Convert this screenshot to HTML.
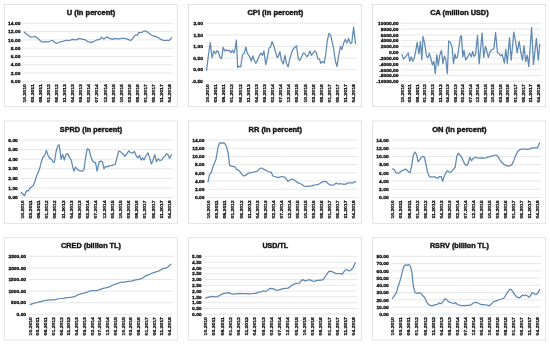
<!DOCTYPE html>
<html><head><meta charset="utf-8"><title>charts</title>
<style>html,body{margin:0;padding:0;background:#fff;}svg{display:block;}text{font-family:"Liberation Sans",sans-serif;font-weight:bold;fill:#111;stroke:#111;stroke-width:0.28;}.t{font-size:6.9px;text-anchor:middle;stroke-width:0.4;}.y{font-size:3.9px;text-anchor:end;}.x{font-size:3.9px;text-anchor:end;}.g{stroke:#dcdcdc;stroke-width:0.7;fill:none;}.a{stroke:#c9ced8;stroke-width:0.7;fill:none;stroke-dasharray:1.1 0.5;}.b{stroke:#dcdcdc;stroke-width:0.8;fill:#fff;}.l{stroke:#5f89b5;stroke-width:1.25;fill:none;stroke-linejoin:round;stroke-linecap:round;}</style></head><body>
<svg width="550" height="345" viewBox="0 0 550 345">
<rect x="0" y="0" width="550" height="345" fill="#fff"/>
<g>
<rect class="b" x="4.3" y="4.4" width="173.0" height="102.3"/>
<path class="g" d="M23.2 23.30H173.0"/>
<path class="g" d="M23.2 31.60H173.0"/>
<path class="g" d="M23.2 39.90H173.0"/>
<path class="g" d="M23.2 48.20H173.0"/>
<path class="g" d="M23.2 56.50H173.0"/>
<path class="g" d="M23.2 64.80H173.0"/>
<path class="g" d="M23.2 73.10H173.0"/>
<path class="a" d="M23.2 81.40H173.0"/>
<polyline class="l" points="24.1,32.1 27.3,34.7 30.9,37.2 35.3,36.5 38.2,38.8 41.8,42.0 44.7,41.7 48.4,42.0 52.0,40.3 56.4,43.5 60.0,42.0 62.9,41.3 65.8,40.3 69.5,40.5 72.4,39.4 76.0,39.8 79.6,38.4 82.5,39.4 84.7,39.4 87.6,41.6 91.3,42.4 94.2,41.3 97.1,39.8 100.0,39.4 101.6,37.2 103.8,39.1 106.7,36.9 109.6,38.4 112.5,39.4 115.5,38.4 118.4,39.1 121.3,38.4 124.9,38.4 127.8,39.4 130.7,40.5 132.9,38.4 135.1,35.2 137.3,35.2 138.7,32.5 141.6,32.5 144.5,30.8 147.5,32.1 149.6,33.7 152.5,35.7 154.7,36.2 157.6,37.3 160.5,39.1 163.5,40.5 166.4,40.3 169.3,40.3 171.7,37.6"/>
</g>
<g>
<rect class="b" x="188.6" y="4.4" width="173.0" height="102.3"/>
<path class="g" d="M206.3 23.30H357.3"/>
<path class="g" d="M206.3 34.92H357.3"/>
<path class="g" d="M206.3 46.54H357.3"/>
<path class="g" d="M206.3 58.16H357.3"/>
<path class="g" d="M206.3 69.78H357.3"/>
<path class="a" d="M206.3 81.40H357.3"/>
<polyline class="l" points="206.6,70.3 208.4,55.3 210.3,42.6 212.0,57.7 213.9,50.9 215.6,53.8 216.8,50.9 218.3,51.6 219.7,56.7 221.5,58.9 223.2,47.3 224.7,50.9 226.5,49.9 228.0,50.9 229.5,50.2 230.9,52.8 232.4,50.2 233.8,53.1 235.0,49.5 236.4,40.0 237.7,67.6 239.2,66.2 240.7,66.9 242.5,54.5 244.0,53.8 245.9,47.0 247.3,53.1 248.8,55.3 250.3,58.2 251.3,61.1 252.7,56.0 254.2,60.4 255.9,63.3 257.8,59.6 259.6,55.3 261.0,53.1 262.5,55.3 263.9,50.9 265.8,64.7 267.3,58.2 269.0,48.0 270.5,47.3 272.1,41.5 273.8,45.8 275.6,52.4 277.2,57.5 278.5,56.0 279.9,51.6 281.4,60.4 283.3,64.0 284.9,55.3 286.4,63.3 288.1,66.9 290.0,58.2 291.5,53.1 293.3,48.7 295.1,47.3 296.5,45.8 298.3,58.9 299.7,60.4 301.6,56.7 303.4,52.8 305.0,53.8 306.7,56.7 308.2,55.3 309.9,50.9 311.4,55.3 313.0,53.1 314.7,50.9 316.2,52.4 317.9,58.9 319.4,58.9 320.8,63.3 322.4,61.5 324.2,63.0 325.6,55.3 327.4,40.0 329.0,33.5 330.7,35.6 332.2,42.2 333.6,48.7 335.4,61.1 337.0,66.5 338.7,55.3 340.5,46.5 341.9,49.5 343.5,43.6 345.3,39.3 347.0,42.9 348.6,38.5 350.4,43.6 351.8,42.9 353.6,27.2 355.5,43.6"/>
</g>
<g>
<rect class="b" x="372.7" y="4.4" width="173.0" height="102.3"/>
<path class="g" d="M401.0 23.30H541.4"/>
<path class="g" d="M401.0 29.11H541.4"/>
<path class="g" d="M401.0 34.92H541.4"/>
<path class="g" d="M401.0 40.73H541.4"/>
<path class="g" d="M401.0 46.54H541.4"/>
<path class="g" d="M401.0 52.35H541.4"/>
<path class="g" d="M401.0 58.16H541.4"/>
<path class="g" d="M401.0 63.97H541.4"/>
<path class="g" d="M401.0 69.78H541.4"/>
<path class="g" d="M401.0 75.59H541.4"/>
<path class="a" d="M401.0 81.40H541.4"/>
<polyline class="l" points="401.9,54.4 403.6,59.1 405.4,56.9 407.0,55.0 408.3,53.0 409.7,61.3 411.2,56.9 412.7,61.3 414.1,58.4 415.6,51.8 417.2,42.4 418.9,54.0 420.4,41.6 421.8,59.8 423.0,36.5 424.7,43.8 426.5,56.2 427.9,57.6 429.4,53.3 431.0,59.1 432.4,64.9 433.9,61.3 435.3,73.6 436.8,54.7 438.3,65.6 439.7,55.5 441.5,50.4 442.9,63.5 444.4,56.2 445.8,59.1 447.3,73.6 448.7,40.9 450.5,42.4 452.1,47.5 453.5,63.5 455.0,54.0 456.0,58.4 457.5,56.9 458.9,47.5 460.4,36.5 461.4,35.8 462.8,56.9 464.0,50.4 465.7,59.8 467.6,56.9 469.8,53.3 471.3,56.9 472.7,51.5 474.1,56.5 475.6,54.4 477.5,35.5 479.2,63.8 482.1,33.0 483.7,57.3 485.5,46.4 486.9,51.5 488.4,57.3 490.1,51.5 491.7,50.0 493.9,48.5 495.6,32.5 497.4,52.2 499.0,53.6 500.7,55.8 502.2,54.4 504.4,63.1 505.8,49.3 507.3,63.1 509.5,37.6 511.2,60.2 513.8,32.1 515.7,42.0 517.2,52.9 519.2,41.3 520.7,51.5 522.5,60.2 524.0,45.6 525.7,61.6 527.2,55.1 528.8,66.7 531.6,27.5 533.5,64.5 536.4,38.4 538.3,60.2 539.7,44.2"/>
</g>
<g>
<rect class="b" x="4.3" y="121.0" width="173.0" height="102.3"/>
<path class="g" d="M20.9 140.10H173.0"/>
<path class="g" d="M20.9 149.67H173.0"/>
<path class="g" d="M20.9 159.23H173.0"/>
<path class="g" d="M20.9 168.80H173.0"/>
<path class="g" d="M20.9 178.37H173.0"/>
<path class="g" d="M20.9 187.93H173.0"/>
<path class="a" d="M20.9 197.50H173.0"/>
<polyline class="l" points="21.3,192.5 24.5,195.7 26.6,190.6 28.2,190.9 29.6,188.8 31.2,187.2 33.3,185.6 34.9,181.6 36.5,176.0 38.4,172.0 40.0,167.2 41.6,160.8 43.2,156.8 44.5,156.0 46.4,150.4 48.0,155.2 49.6,158.4 51.5,159.2 53.1,162.1 54.4,162.1 56.0,152.0 57.6,146.4 59.2,144.8 61.1,159.2 62.7,154.4 64.3,160.0 65.9,154.4 67.5,153.6 69.6,157.6 71.2,160.0 72.8,167.2 73.9,171.2 75.5,167.2 77.6,169.6 79.2,170.4 81.1,171.2 82.4,171.2 84.0,169.6 85.6,157.6 87.2,148.8 89.1,149.6 90.7,156.0 92.5,160.8 94.1,162.4 95.5,162.4 97.1,171.2 99.2,161.6 100.8,161.1 102.4,161.6 104.0,168.8 105.6,166.4 107.5,166.9 109.1,165.9 111.2,165.6 113.3,164.8 115.2,164.5 116.8,158.4 118.7,151.2 120.3,151.5 121.9,153.1 123.5,154.7 125.1,156.3 126.7,154.1 128.8,150.9 130.4,152.5 132.5,153.1 134.4,151.5 136.3,156.0 137.9,157.9 139.5,155.2 141.1,160.0 142.7,157.9 144.0,160.0 145.9,156.0 148.0,152.8 149.6,157.6 151.5,164.0 153.1,160.0 154.7,154.7 156.5,161.6 158.1,158.9 160.0,160.5 161.6,160.0 163.2,157.6 165.1,156.3 166.4,153.6 168.0,154.7 169.6,158.4 171.5,154.7"/>
</g>
<g>
<rect class="b" x="188.6" y="121.0" width="173.0" height="102.3"/>
<path class="g" d="M207.5 140.10H357.3"/>
<path class="g" d="M207.5 148.30H357.3"/>
<path class="g" d="M207.5 156.50H357.3"/>
<path class="g" d="M207.5 164.70H357.3"/>
<path class="g" d="M207.5 172.90H357.3"/>
<path class="g" d="M207.5 181.10H357.3"/>
<path class="g" d="M207.5 189.30H357.3"/>
<path class="a" d="M207.5 197.50H357.3"/>
<polyline class="l" points="208.0,181.9 209.6,174.4 211.2,172.8 212.8,167.2 214.4,163.2 216.0,159.2 217.9,148.0 219.5,142.9 221.3,143.2 222.9,142.9 224.5,143.2 226.1,145.6 228.0,152.0 229.6,165.3 231.5,166.1 233.1,166.4 234.9,166.9 236.5,169.1 238.1,170.1 240.0,171.7 241.9,174.4 244.0,176.0 245.9,175.2 248.0,173.3 249.9,172.8 252.0,172.3 253.9,172.0 256.0,171.7 257.9,170.4 260.0,168.5 261.6,168.0 263.5,169.1 265.6,170.1 267.5,171.2 269.3,172.0 271.2,172.0 272.8,176.0 274.7,176.5 276.8,177.1 278.7,177.6 280.5,176.8 282.4,176.5 284.3,177.1 285.9,178.4 288.0,181.3 289.9,180.0 292.0,179.2 293.9,179.7 296.0,181.3 297.9,182.9 300.0,183.5 301.9,184.5 304.0,186.1 305.9,186.4 308.0,186.4 309.9,186.1 312.0,185.6 313.9,185.1 316.0,184.8 318.4,184.3 320.3,183.2 322.4,181.9 324.3,181.3 326.4,181.6 328.0,183.5 329.9,184.8 332.0,185.1 333.9,184.8 336.0,183.2 337.9,184.0 340.0,183.7 341.9,184.0 344.0,184.0 345.6,184.3 347.2,183.2 349.1,182.9 351.2,182.9 353.1,182.9 355.2,181.6"/>
</g>
<g>
<rect class="b" x="372.7" y="121.0" width="173.0" height="102.3"/>
<path class="g" d="M391.6 140.10H541.4"/>
<path class="g" d="M391.6 148.30H541.4"/>
<path class="g" d="M391.6 156.50H541.4"/>
<path class="g" d="M391.6 164.70H541.4"/>
<path class="g" d="M391.6 172.90H541.4"/>
<path class="g" d="M391.6 181.10H541.4"/>
<path class="g" d="M391.6 189.30H541.4"/>
<path class="a" d="M391.6 197.50H541.4"/>
<polyline class="l" points="392.5,168.8 394.4,169.6 396.0,172.8 397.9,173.1 399.5,172.8 401.6,170.7 403.5,170.1 405.3,169.1 406.9,170.1 408.5,171.7 410.1,172.8 411.7,165.6 413.3,155.2 414.9,152.0 416.5,154.4 418.1,161.6 419.7,160.0 421.3,157.3 422.9,156.3 424.5,157.6 425.9,164.0 427.5,172.0 429.1,176.0 430.9,177.1 432.5,177.1 434.4,176.5 436.3,178.1 438.1,178.1 439.5,176.5 441.1,176.5 442.7,181.3 444.3,176.0 445.9,172.8 447.5,170.7 449.1,172.0 450.7,172.3 452.3,170.4 453.9,168.8 455.2,167.2 456.8,156.0 458.4,153.1 460.0,155.2 461.6,157.3 462.9,160.0 464.5,163.7 466.1,165.3 467.7,164.8 469.1,160.0 469.9,157.3 471.5,160.8 473.1,158.4 474.7,157.6 476.0,157.3 478.0,158.2 479.9,158.2 482.0,157.9 483.9,158.2 486.0,157.9 487.9,157.1 490.0,156.6 491.9,156.1 494.0,155.5 495.9,155.0 498.0,156.6 499.9,159.8 502.0,162.5 503.9,164.3 506.0,165.4 508.4,166.2 510.0,165.7 511.9,164.6 513.5,161.4 515.6,155.8 517.5,151.8 519.6,149.7 521.5,149.1 523.6,149.1 525.5,149.1 527.6,149.4 529.5,149.1 531.6,148.1 533.5,147.8 535.6,147.8 537.5,147.8 539.6,143.0"/>
</g>
<g>
<rect class="b" x="4.3" y="237.8" width="173.0" height="102.3"/>
<path class="g" d="M28.9 256.30H173.0"/>
<path class="g" d="M28.9 267.90H173.0"/>
<path class="g" d="M28.9 279.50H173.0"/>
<path class="g" d="M28.9 291.10H173.0"/>
<path class="g" d="M28.9 302.70H173.0"/>
<path class="a" d="M28.9 314.30H173.0"/>
<polyline class="l" points="30.1,304.6 32.0,303.8 35.2,303.0 38.4,302.2 41.6,301.4 44.8,300.6 48.0,300.1 51.2,299.8 54.4,299.8 57.6,299.0 60.8,298.5 64.0,298.2 67.2,297.7 70.4,297.4 72.8,296.9 75.2,296.3 77.6,295.0 80.0,294.2 82.4,293.4 84.8,292.9 87.2,292.1 89.6,291.2 92.0,290.5 94.4,290.5 96.8,290.5 99.2,289.9 101.6,288.9 104.0,288.1 105.6,287.9 108.8,287.1 112.0,285.5 115.2,284.1 118.4,283.1 121.6,282.0 124.0,282.3 126.4,281.7 128.8,281.4 131.2,281.2 133.6,280.4 136.0,279.9 138.4,279.4 140.8,278.8 142.7,278.0 144.8,276.4 147.2,275.1 149.6,274.3 152.0,273.2 154.4,272.4 156.8,271.6 159.2,270.8 161.6,269.2 164.0,268.4 166.4,267.9 168.8,266.3 171.2,264.1"/>
</g>
<g>
<rect class="b" x="188.6" y="237.8" width="173.0" height="102.3"/>
<path class="g" d="M204.3 256.30H357.3"/>
<path class="g" d="M204.3 262.10H357.3"/>
<path class="g" d="M204.3 267.90H357.3"/>
<path class="g" d="M204.3 273.70H357.3"/>
<path class="g" d="M204.3 279.50H357.3"/>
<path class="g" d="M204.3 285.30H357.3"/>
<path class="g" d="M204.3 291.10H357.3"/>
<path class="g" d="M204.3 296.90H357.3"/>
<path class="g" d="M204.3 302.70H357.3"/>
<path class="g" d="M204.3 308.50H357.3"/>
<path class="a" d="M204.3 314.30H357.3"/>
<polyline class="l" points="205.6,298.2 208.0,297.4 210.4,296.6 212.8,296.3 215.2,296.9 217.6,296.6 220.0,295.3 222.4,293.9 224.8,293.1 227.2,293.1 228.8,292.6 230.4,293.4 232.8,294.2 235.2,293.9 237.6,293.6 240.0,293.4 242.4,293.6 244.8,293.6 247.2,293.7 249.6,293.9 252.0,293.7 254.4,293.4 256.0,293.4 258.4,292.1 260.8,291.8 263.2,291.0 265.6,291.3 267.2,290.5 269.6,288.6 272.0,288.3 273.6,288.9 276.0,290.2 278.4,290.2 280.8,289.4 283.2,288.6 285.6,288.3 288.0,288.1 289.6,287.1 292.0,285.2 294.4,283.9 296.8,283.3 299.2,283.1 300.8,281.2 302.7,279.6 304.8,280.9 306.4,280.7 308.8,279.6 311.2,280.4 313.6,281.5 316.0,280.7 318.4,280.4 320.8,280.1 322.4,280.1 324.0,278.8 326.4,274.8 328.8,271.3 331.2,271.3 333.6,272.4 336.0,273.5 338.4,273.5 340.5,273.5 342.1,274.3 343.7,272.1 345.6,269.5 347.2,270.0 349.1,270.8 351.2,270.0 353.3,267.3 355.2,262.8"/>
</g>
<g>
<rect class="b" x="372.7" y="237.8" width="173.0" height="102.3"/>
<path class="g" d="M391.5 256.30H541.4"/>
<path class="g" d="M391.5 263.55H541.4"/>
<path class="g" d="M391.5 270.80H541.4"/>
<path class="g" d="M391.5 278.05H541.4"/>
<path class="g" d="M391.5 285.30H541.4"/>
<path class="g" d="M391.5 292.55H541.4"/>
<path class="g" d="M391.5 299.80H541.4"/>
<path class="g" d="M391.5 307.05H541.4"/>
<path class="a" d="M391.5 314.30H541.4"/>
<polyline class="l" points="392.4,298.5 394.3,295.8 396.4,292.6 398.0,287.0 400.1,280.6 402.0,273.4 403.6,267.0 405.2,264.9 406.8,265.4 408.7,264.6 410.3,265.9 411.9,272.6 413.5,287.0 415.1,292.6 417.2,293.4 419.1,292.6 420.9,293.4 422.8,295.8 424.7,297.4 426.3,301.4 427.9,303.8 430.0,305.4 432.1,305.9 434.0,305.1 435.9,304.6 437.5,304.3 439.3,302.7 441.2,303.8 443.1,301.4 444.9,298.7 446.8,299.8 448.4,301.7 450.3,302.4 452.1,303.0 453.7,303.8 455.3,302.5 457.2,304.3 459.3,305.2 461.2,305.6 463.1,305.7 465.2,305.6 467.1,305.4 469.2,305.4 471.1,304.9 473.2,303.0 475.6,302.4 477.5,302.7 479.6,303.8 481.5,304.6 483.6,304.6 485.5,304.9 487.6,305.1 489.5,305.9 491.6,303.8 493.5,301.7 495.6,301.1 497.5,300.3 499.6,299.5 501.7,299.0 503.9,298.2 506.0,294.7 508.1,291.5 510.0,289.1 511.6,289.9 513.5,292.6 515.6,295.8 517.5,297.4 519.3,297.9 520.9,296.9 522.5,295.0 524.1,295.8 525.7,295.0 527.3,295.8 528.9,297.4 530.5,295.8 532.1,292.6 534.0,293.4 535.9,294.7 538.0,293.1 539.6,289.4"/>
</g>
<g opacity="0.99">
<text class="t" x="91.0" y="15.1" textLength="48.5" lengthAdjust="spacingAndGlyphs">U (in percent)</text>
<text class="y" transform="rotate(0.02)" x="20.4" y="24.90" textLength="12.3" lengthAdjust="spacingAndGlyphs">14.00</text>
<text class="y" transform="rotate(0.02)" x="20.4" y="33.20" textLength="12.3" lengthAdjust="spacingAndGlyphs">12.00</text>
<text class="y" transform="rotate(0.02)" x="20.4" y="41.50" textLength="12.3" lengthAdjust="spacingAndGlyphs">10.00</text>
<text class="y" transform="rotate(0.02)" x="20.4" y="49.80" textLength="9.5" lengthAdjust="spacingAndGlyphs">8.00</text>
<text class="y" transform="rotate(0.02)" x="20.4" y="58.10" textLength="9.5" lengthAdjust="spacingAndGlyphs">6.00</text>
<text class="y" transform="rotate(0.02)" x="20.4" y="66.40" textLength="9.5" lengthAdjust="spacingAndGlyphs">4.00</text>
<text class="y" transform="rotate(0.02)" x="20.4" y="74.70" textLength="9.5" lengthAdjust="spacingAndGlyphs">2.00</text>
<text class="y" transform="rotate(0.02)" x="20.4" y="83.00" textLength="9.5" lengthAdjust="spacingAndGlyphs">0.00</text>
<text class="x" transform="translate(26.01 84.20) rotate(-90)" textLength="18.3" lengthAdjust="spacingAndGlyphs">10.2010</text>
<text class="x" transform="translate(34.06 84.20) rotate(-90)" textLength="18.3" lengthAdjust="spacingAndGlyphs">03.2011</text>
<text class="x" transform="translate(42.12 84.20) rotate(-90)" textLength="18.3" lengthAdjust="spacingAndGlyphs">08.2011</text>
<text class="x" transform="translate(50.17 84.20) rotate(-90)" textLength="18.3" lengthAdjust="spacingAndGlyphs">01.2012</text>
<text class="x" transform="translate(58.22 84.20) rotate(-90)" textLength="18.3" lengthAdjust="spacingAndGlyphs">06.2012</text>
<text class="x" transform="translate(66.28 84.20) rotate(-90)" textLength="18.3" lengthAdjust="spacingAndGlyphs">11.2012</text>
<text class="x" transform="translate(74.33 84.20) rotate(-90)" textLength="18.3" lengthAdjust="spacingAndGlyphs">04.2013</text>
<text class="x" transform="translate(82.39 84.20) rotate(-90)" textLength="18.3" lengthAdjust="spacingAndGlyphs">09.2013</text>
<text class="x" transform="translate(90.44 84.20) rotate(-90)" textLength="18.3" lengthAdjust="spacingAndGlyphs">02.2014</text>
<text class="x" transform="translate(98.49 84.20) rotate(-90)" textLength="18.3" lengthAdjust="spacingAndGlyphs">07.2014</text>
<text class="x" transform="translate(106.55 84.20) rotate(-90)" textLength="18.3" lengthAdjust="spacingAndGlyphs">12.2014</text>
<text class="x" transform="translate(114.60 84.20) rotate(-90)" textLength="18.3" lengthAdjust="spacingAndGlyphs">05.2015</text>
<text class="x" transform="translate(122.65 84.20) rotate(-90)" textLength="18.3" lengthAdjust="spacingAndGlyphs">10.2015</text>
<text class="x" transform="translate(130.71 84.20) rotate(-90)" textLength="18.3" lengthAdjust="spacingAndGlyphs">03.2016</text>
<text class="x" transform="translate(138.76 84.20) rotate(-90)" textLength="18.3" lengthAdjust="spacingAndGlyphs">08.2016</text>
<text class="x" transform="translate(146.82 84.20) rotate(-90)" textLength="18.3" lengthAdjust="spacingAndGlyphs">01.2017</text>
<text class="x" transform="translate(154.87 84.20) rotate(-90)" textLength="18.3" lengthAdjust="spacingAndGlyphs">06.2017</text>
<text class="x" transform="translate(162.92 84.20) rotate(-90)" textLength="18.3" lengthAdjust="spacingAndGlyphs">11.2017</text>
<text class="x" transform="translate(170.98 84.20) rotate(-90)" textLength="18.3" lengthAdjust="spacingAndGlyphs">04.2018</text>
<text class="t" x="275.3" y="15.1" textLength="55.8" lengthAdjust="spacingAndGlyphs">CPI (in percent)</text>
<text class="y" transform="rotate(0.02)" x="202.9" y="24.90" textLength="9.5" lengthAdjust="spacingAndGlyphs">2.00</text>
<text class="y" transform="rotate(0.02)" x="202.9" y="36.52" textLength="9.5" lengthAdjust="spacingAndGlyphs">1.50</text>
<text class="y" transform="rotate(0.02)" x="202.9" y="48.14" textLength="9.5" lengthAdjust="spacingAndGlyphs">1.00</text>
<text class="y" transform="rotate(0.02)" x="202.9" y="59.76" textLength="9.5" lengthAdjust="spacingAndGlyphs">0.50</text>
<text class="y" transform="rotate(0.02)" x="202.9" y="71.38" textLength="9.5" lengthAdjust="spacingAndGlyphs">0.00</text>
<text class="y" transform="rotate(0.02)" x="202.9" y="83.00" textLength="11.2" lengthAdjust="spacingAndGlyphs">-0.50</text>
<text class="x" transform="translate(209.12 84.20) rotate(-90)" textLength="18.3" lengthAdjust="spacingAndGlyphs">10.2010</text>
<text class="x" transform="translate(217.23 84.20) rotate(-90)" textLength="18.3" lengthAdjust="spacingAndGlyphs">03.2011</text>
<text class="x" transform="translate(225.35 84.20) rotate(-90)" textLength="18.3" lengthAdjust="spacingAndGlyphs">08.2011</text>
<text class="x" transform="translate(233.47 84.20) rotate(-90)" textLength="18.3" lengthAdjust="spacingAndGlyphs">01.2012</text>
<text class="x" transform="translate(241.59 84.20) rotate(-90)" textLength="18.3" lengthAdjust="spacingAndGlyphs">06.2012</text>
<text class="x" transform="translate(249.71 84.20) rotate(-90)" textLength="18.3" lengthAdjust="spacingAndGlyphs">11.2012</text>
<text class="x" transform="translate(257.83 84.20) rotate(-90)" textLength="18.3" lengthAdjust="spacingAndGlyphs">04.2013</text>
<text class="x" transform="translate(265.94 84.20) rotate(-90)" textLength="18.3" lengthAdjust="spacingAndGlyphs">09.2013</text>
<text class="x" transform="translate(274.06 84.20) rotate(-90)" textLength="18.3" lengthAdjust="spacingAndGlyphs">02.2014</text>
<text class="x" transform="translate(282.18 84.20) rotate(-90)" textLength="18.3" lengthAdjust="spacingAndGlyphs">07.2014</text>
<text class="x" transform="translate(290.30 84.20) rotate(-90)" textLength="18.3" lengthAdjust="spacingAndGlyphs">12.2014</text>
<text class="x" transform="translate(298.42 84.20) rotate(-90)" textLength="18.3" lengthAdjust="spacingAndGlyphs">05.2015</text>
<text class="x" transform="translate(306.54 84.20) rotate(-90)" textLength="18.3" lengthAdjust="spacingAndGlyphs">10.2015</text>
<text class="x" transform="translate(314.65 84.20) rotate(-90)" textLength="18.3" lengthAdjust="spacingAndGlyphs">03.2016</text>
<text class="x" transform="translate(322.77 84.20) rotate(-90)" textLength="18.3" lengthAdjust="spacingAndGlyphs">08.2016</text>
<text class="x" transform="translate(330.89 84.20) rotate(-90)" textLength="18.3" lengthAdjust="spacingAndGlyphs">01.2017</text>
<text class="x" transform="translate(339.01 84.20) rotate(-90)" textLength="18.3" lengthAdjust="spacingAndGlyphs">06.2017</text>
<text class="x" transform="translate(347.13 84.20) rotate(-90)" textLength="18.3" lengthAdjust="spacingAndGlyphs">11.2017</text>
<text class="x" transform="translate(355.24 84.20) rotate(-90)" textLength="18.3" lengthAdjust="spacingAndGlyphs">04.2018</text>
<text class="t" x="459.4" y="15.1" textLength="58.4" lengthAdjust="spacingAndGlyphs">CA (million USD)</text>
<text class="y" transform="rotate(0.02)" x="398.5" y="24.90" textLength="20.4" lengthAdjust="spacingAndGlyphs">10000.00</text>
<text class="y" transform="rotate(0.02)" x="398.5" y="30.71" textLength="17.7" lengthAdjust="spacingAndGlyphs">8000.00</text>
<text class="y" transform="rotate(0.02)" x="398.5" y="36.52" textLength="17.7" lengthAdjust="spacingAndGlyphs">6000.00</text>
<text class="y" transform="rotate(0.02)" x="398.5" y="42.33" textLength="17.7" lengthAdjust="spacingAndGlyphs">4000.00</text>
<text class="y" transform="rotate(0.02)" x="398.5" y="48.14" textLength="17.7" lengthAdjust="spacingAndGlyphs">2000.00</text>
<text class="y" transform="rotate(0.02)" x="398.5" y="53.95" textLength="9.5" lengthAdjust="spacingAndGlyphs">0.00</text>
<text class="y" transform="rotate(0.02)" x="398.5" y="59.76" textLength="19.3" lengthAdjust="spacingAndGlyphs">-2000.00</text>
<text class="y" transform="rotate(0.02)" x="398.5" y="65.57" textLength="19.3" lengthAdjust="spacingAndGlyphs">-4000.00</text>
<text class="y" transform="rotate(0.02)" x="398.5" y="71.38" textLength="19.3" lengthAdjust="spacingAndGlyphs">-6000.00</text>
<text class="y" transform="rotate(0.02)" x="398.5" y="77.19" textLength="19.3" lengthAdjust="spacingAndGlyphs">-8000.00</text>
<text class="y" transform="rotate(0.02)" x="398.5" y="83.00" textLength="22.1" lengthAdjust="spacingAndGlyphs">-10000.00</text>
<text class="x" transform="translate(403.76 84.20) rotate(-90)" textLength="18.3" lengthAdjust="spacingAndGlyphs">10.2010</text>
<text class="x" transform="translate(411.31 84.20) rotate(-90)" textLength="18.3" lengthAdjust="spacingAndGlyphs">03.2011</text>
<text class="x" transform="translate(418.86 84.20) rotate(-90)" textLength="18.3" lengthAdjust="spacingAndGlyphs">08.2011</text>
<text class="x" transform="translate(426.40 84.20) rotate(-90)" textLength="18.3" lengthAdjust="spacingAndGlyphs">01.2012</text>
<text class="x" transform="translate(433.95 84.20) rotate(-90)" textLength="18.3" lengthAdjust="spacingAndGlyphs">06.2012</text>
<text class="x" transform="translate(441.50 84.20) rotate(-90)" textLength="18.3" lengthAdjust="spacingAndGlyphs">11.2012</text>
<text class="x" transform="translate(449.05 84.20) rotate(-90)" textLength="18.3" lengthAdjust="spacingAndGlyphs">04.2013</text>
<text class="x" transform="translate(456.60 84.20) rotate(-90)" textLength="18.3" lengthAdjust="spacingAndGlyphs">09.2013</text>
<text class="x" transform="translate(464.15 84.20) rotate(-90)" textLength="18.3" lengthAdjust="spacingAndGlyphs">02.2014</text>
<text class="x" transform="translate(471.69 84.20) rotate(-90)" textLength="18.3" lengthAdjust="spacingAndGlyphs">07.2014</text>
<text class="x" transform="translate(479.24 84.20) rotate(-90)" textLength="18.3" lengthAdjust="spacingAndGlyphs">12.2014</text>
<text class="x" transform="translate(486.79 84.20) rotate(-90)" textLength="18.3" lengthAdjust="spacingAndGlyphs">05.2015</text>
<text class="x" transform="translate(494.34 84.20) rotate(-90)" textLength="18.3" lengthAdjust="spacingAndGlyphs">10.2015</text>
<text class="x" transform="translate(501.89 84.20) rotate(-90)" textLength="18.3" lengthAdjust="spacingAndGlyphs">03.2016</text>
<text class="x" transform="translate(509.44 84.20) rotate(-90)" textLength="18.3" lengthAdjust="spacingAndGlyphs">08.2016</text>
<text class="x" transform="translate(516.98 84.20) rotate(-90)" textLength="18.3" lengthAdjust="spacingAndGlyphs">01.2017</text>
<text class="x" transform="translate(524.53 84.20) rotate(-90)" textLength="18.3" lengthAdjust="spacingAndGlyphs">06.2017</text>
<text class="x" transform="translate(532.08 84.20) rotate(-90)" textLength="18.3" lengthAdjust="spacingAndGlyphs">11.2017</text>
<text class="x" transform="translate(539.63 84.20) rotate(-90)" textLength="18.3" lengthAdjust="spacingAndGlyphs">04.2018</text>
<text class="t" x="91.0" y="131.7" textLength="62.5" lengthAdjust="spacingAndGlyphs">SPRD (in percent)</text>
<text class="y" transform="rotate(0.02)" x="17.9" y="141.70" textLength="9.5" lengthAdjust="spacingAndGlyphs">6.00</text>
<text class="y" transform="rotate(0.02)" x="17.9" y="151.27" textLength="9.5" lengthAdjust="spacingAndGlyphs">5.00</text>
<text class="y" transform="rotate(0.02)" x="17.9" y="160.84" textLength="9.5" lengthAdjust="spacingAndGlyphs">4.00</text>
<text class="y" transform="rotate(0.02)" x="17.9" y="170.40" textLength="9.5" lengthAdjust="spacingAndGlyphs">3.00</text>
<text class="y" transform="rotate(0.02)" x="17.9" y="179.97" textLength="9.5" lengthAdjust="spacingAndGlyphs">2.00</text>
<text class="y" transform="rotate(0.02)" x="17.9" y="189.54" textLength="9.5" lengthAdjust="spacingAndGlyphs">1.00</text>
<text class="y" transform="rotate(0.02)" x="17.9" y="199.10" textLength="9.5" lengthAdjust="spacingAndGlyphs">0.00</text>
<text class="x" transform="translate(23.72 200.30) rotate(-90)" textLength="18.3" lengthAdjust="spacingAndGlyphs">10.2010</text>
<text class="x" transform="translate(31.90 200.30) rotate(-90)" textLength="18.3" lengthAdjust="spacingAndGlyphs">03.2011</text>
<text class="x" transform="translate(40.08 200.30) rotate(-90)" textLength="18.3" lengthAdjust="spacingAndGlyphs">08.2011</text>
<text class="x" transform="translate(48.25 200.30) rotate(-90)" textLength="18.3" lengthAdjust="spacingAndGlyphs">01.2012</text>
<text class="x" transform="translate(56.43 200.30) rotate(-90)" textLength="18.3" lengthAdjust="spacingAndGlyphs">06.2012</text>
<text class="x" transform="translate(64.61 200.30) rotate(-90)" textLength="18.3" lengthAdjust="spacingAndGlyphs">11.2012</text>
<text class="x" transform="translate(72.79 200.30) rotate(-90)" textLength="18.3" lengthAdjust="spacingAndGlyphs">04.2013</text>
<text class="x" transform="translate(80.96 200.30) rotate(-90)" textLength="18.3" lengthAdjust="spacingAndGlyphs">09.2013</text>
<text class="x" transform="translate(89.14 200.30) rotate(-90)" textLength="18.3" lengthAdjust="spacingAndGlyphs">02.2014</text>
<text class="x" transform="translate(97.32 200.30) rotate(-90)" textLength="18.3" lengthAdjust="spacingAndGlyphs">07.2014</text>
<text class="x" transform="translate(105.50 200.30) rotate(-90)" textLength="18.3" lengthAdjust="spacingAndGlyphs">12.2014</text>
<text class="x" transform="translate(113.67 200.30) rotate(-90)" textLength="18.3" lengthAdjust="spacingAndGlyphs">05.2015</text>
<text class="x" transform="translate(121.85 200.30) rotate(-90)" textLength="18.3" lengthAdjust="spacingAndGlyphs">10.2015</text>
<text class="x" transform="translate(130.03 200.30) rotate(-90)" textLength="18.3" lengthAdjust="spacingAndGlyphs">03.2016</text>
<text class="x" transform="translate(138.21 200.30) rotate(-90)" textLength="18.3" lengthAdjust="spacingAndGlyphs">08.2016</text>
<text class="x" transform="translate(146.38 200.30) rotate(-90)" textLength="18.3" lengthAdjust="spacingAndGlyphs">01.2017</text>
<text class="x" transform="translate(154.56 200.30) rotate(-90)" textLength="18.3" lengthAdjust="spacingAndGlyphs">06.2017</text>
<text class="x" transform="translate(162.74 200.30) rotate(-90)" textLength="18.3" lengthAdjust="spacingAndGlyphs">11.2017</text>
<text class="x" transform="translate(170.92 200.30) rotate(-90)" textLength="18.3" lengthAdjust="spacingAndGlyphs">04.2018</text>
<text class="t" x="275.3" y="131.7" textLength="53.6" lengthAdjust="spacingAndGlyphs">RR (in percent)</text>
<text class="y" transform="rotate(0.02)" x="204.6" y="141.70" textLength="12.3" lengthAdjust="spacingAndGlyphs">14.00</text>
<text class="y" transform="rotate(0.02)" x="204.6" y="149.90" textLength="12.3" lengthAdjust="spacingAndGlyphs">12.00</text>
<text class="y" transform="rotate(0.02)" x="204.6" y="158.10" textLength="12.3" lengthAdjust="spacingAndGlyphs">10.00</text>
<text class="y" transform="rotate(0.02)" x="204.6" y="166.30" textLength="9.5" lengthAdjust="spacingAndGlyphs">8.00</text>
<text class="y" transform="rotate(0.02)" x="204.6" y="174.50" textLength="9.5" lengthAdjust="spacingAndGlyphs">6.00</text>
<text class="y" transform="rotate(0.02)" x="204.6" y="182.70" textLength="9.5" lengthAdjust="spacingAndGlyphs">4.00</text>
<text class="y" transform="rotate(0.02)" x="204.6" y="190.90" textLength="9.5" lengthAdjust="spacingAndGlyphs">2.00</text>
<text class="y" transform="rotate(0.02)" x="204.6" y="199.10" textLength="9.5" lengthAdjust="spacingAndGlyphs">0.00</text>
<text class="x" transform="translate(210.31 200.30) rotate(-90)" textLength="18.3" lengthAdjust="spacingAndGlyphs">10.2010</text>
<text class="x" transform="translate(218.36 200.30) rotate(-90)" textLength="18.3" lengthAdjust="spacingAndGlyphs">03.2011</text>
<text class="x" transform="translate(226.42 200.30) rotate(-90)" textLength="18.3" lengthAdjust="spacingAndGlyphs">08.2011</text>
<text class="x" transform="translate(234.47 200.30) rotate(-90)" textLength="18.3" lengthAdjust="spacingAndGlyphs">01.2012</text>
<text class="x" transform="translate(242.52 200.30) rotate(-90)" textLength="18.3" lengthAdjust="spacingAndGlyphs">06.2012</text>
<text class="x" transform="translate(250.58 200.30) rotate(-90)" textLength="18.3" lengthAdjust="spacingAndGlyphs">11.2012</text>
<text class="x" transform="translate(258.63 200.30) rotate(-90)" textLength="18.3" lengthAdjust="spacingAndGlyphs">04.2013</text>
<text class="x" transform="translate(266.69 200.30) rotate(-90)" textLength="18.3" lengthAdjust="spacingAndGlyphs">09.2013</text>
<text class="x" transform="translate(274.74 200.30) rotate(-90)" textLength="18.3" lengthAdjust="spacingAndGlyphs">02.2014</text>
<text class="x" transform="translate(282.79 200.30) rotate(-90)" textLength="18.3" lengthAdjust="spacingAndGlyphs">07.2014</text>
<text class="x" transform="translate(290.85 200.30) rotate(-90)" textLength="18.3" lengthAdjust="spacingAndGlyphs">12.2014</text>
<text class="x" transform="translate(298.90 200.30) rotate(-90)" textLength="18.3" lengthAdjust="spacingAndGlyphs">05.2015</text>
<text class="x" transform="translate(306.95 200.30) rotate(-90)" textLength="18.3" lengthAdjust="spacingAndGlyphs">10.2015</text>
<text class="x" transform="translate(315.01 200.30) rotate(-90)" textLength="18.3" lengthAdjust="spacingAndGlyphs">03.2016</text>
<text class="x" transform="translate(323.06 200.30) rotate(-90)" textLength="18.3" lengthAdjust="spacingAndGlyphs">08.2016</text>
<text class="x" transform="translate(331.12 200.30) rotate(-90)" textLength="18.3" lengthAdjust="spacingAndGlyphs">01.2017</text>
<text class="x" transform="translate(339.17 200.30) rotate(-90)" textLength="18.3" lengthAdjust="spacingAndGlyphs">06.2017</text>
<text class="x" transform="translate(347.22 200.30) rotate(-90)" textLength="18.3" lengthAdjust="spacingAndGlyphs">11.2017</text>
<text class="x" transform="translate(355.28 200.30) rotate(-90)" textLength="18.3" lengthAdjust="spacingAndGlyphs">04.2018</text>
<text class="t" x="459.4" y="131.7" textLength="54.4" lengthAdjust="spacingAndGlyphs">ON (in percent)</text>
<text class="y" transform="rotate(0.02)" x="388.7" y="141.70" textLength="12.3" lengthAdjust="spacingAndGlyphs">14.00</text>
<text class="y" transform="rotate(0.02)" x="388.7" y="149.90" textLength="12.3" lengthAdjust="spacingAndGlyphs">12.00</text>
<text class="y" transform="rotate(0.02)" x="388.7" y="158.10" textLength="12.3" lengthAdjust="spacingAndGlyphs">10.00</text>
<text class="y" transform="rotate(0.02)" x="388.7" y="166.30" textLength="9.5" lengthAdjust="spacingAndGlyphs">8.00</text>
<text class="y" transform="rotate(0.02)" x="388.7" y="174.50" textLength="9.5" lengthAdjust="spacingAndGlyphs">6.00</text>
<text class="y" transform="rotate(0.02)" x="388.7" y="182.70" textLength="9.5" lengthAdjust="spacingAndGlyphs">4.00</text>
<text class="y" transform="rotate(0.02)" x="388.7" y="190.90" textLength="9.5" lengthAdjust="spacingAndGlyphs">2.00</text>
<text class="y" transform="rotate(0.02)" x="388.7" y="199.10" textLength="9.5" lengthAdjust="spacingAndGlyphs">0.00</text>
<text class="x" transform="translate(394.41 200.30) rotate(-90)" textLength="18.3" lengthAdjust="spacingAndGlyphs">10.2010</text>
<text class="x" transform="translate(402.46 200.30) rotate(-90)" textLength="18.3" lengthAdjust="spacingAndGlyphs">03.2011</text>
<text class="x" transform="translate(410.52 200.30) rotate(-90)" textLength="18.3" lengthAdjust="spacingAndGlyphs">08.2011</text>
<text class="x" transform="translate(418.57 200.30) rotate(-90)" textLength="18.3" lengthAdjust="spacingAndGlyphs">01.2012</text>
<text class="x" transform="translate(426.62 200.30) rotate(-90)" textLength="18.3" lengthAdjust="spacingAndGlyphs">06.2012</text>
<text class="x" transform="translate(434.68 200.30) rotate(-90)" textLength="18.3" lengthAdjust="spacingAndGlyphs">11.2012</text>
<text class="x" transform="translate(442.73 200.30) rotate(-90)" textLength="18.3" lengthAdjust="spacingAndGlyphs">04.2013</text>
<text class="x" transform="translate(450.79 200.30) rotate(-90)" textLength="18.3" lengthAdjust="spacingAndGlyphs">09.2013</text>
<text class="x" transform="translate(458.84 200.30) rotate(-90)" textLength="18.3" lengthAdjust="spacingAndGlyphs">02.2014</text>
<text class="x" transform="translate(466.89 200.30) rotate(-90)" textLength="18.3" lengthAdjust="spacingAndGlyphs">07.2014</text>
<text class="x" transform="translate(474.95 200.30) rotate(-90)" textLength="18.3" lengthAdjust="spacingAndGlyphs">12.2014</text>
<text class="x" transform="translate(483.00 200.30) rotate(-90)" textLength="18.3" lengthAdjust="spacingAndGlyphs">05.2015</text>
<text class="x" transform="translate(491.05 200.30) rotate(-90)" textLength="18.3" lengthAdjust="spacingAndGlyphs">10.2015</text>
<text class="x" transform="translate(499.11 200.30) rotate(-90)" textLength="18.3" lengthAdjust="spacingAndGlyphs">03.2016</text>
<text class="x" transform="translate(507.16 200.30) rotate(-90)" textLength="18.3" lengthAdjust="spacingAndGlyphs">08.2016</text>
<text class="x" transform="translate(515.22 200.30) rotate(-90)" textLength="18.3" lengthAdjust="spacingAndGlyphs">01.2017</text>
<text class="x" transform="translate(523.27 200.30) rotate(-90)" textLength="18.3" lengthAdjust="spacingAndGlyphs">06.2017</text>
<text class="x" transform="translate(531.32 200.30) rotate(-90)" textLength="18.3" lengthAdjust="spacingAndGlyphs">11.2017</text>
<text class="x" transform="translate(539.38 200.30) rotate(-90)" textLength="18.3" lengthAdjust="spacingAndGlyphs">04.2018</text>
<text class="t" x="91.0" y="248.1" textLength="59.9" lengthAdjust="spacingAndGlyphs">CRED (billion TL)</text>
<text class="y" transform="rotate(0.02)" x="26.2" y="257.90" textLength="17.7" lengthAdjust="spacingAndGlyphs">2500.00</text>
<text class="y" transform="rotate(0.02)" x="26.2" y="269.50" textLength="17.7" lengthAdjust="spacingAndGlyphs">2000.00</text>
<text class="y" transform="rotate(0.02)" x="26.2" y="281.10" textLength="17.7" lengthAdjust="spacingAndGlyphs">1500.00</text>
<text class="y" transform="rotate(0.02)" x="26.2" y="292.70" textLength="17.7" lengthAdjust="spacingAndGlyphs">1000.00</text>
<text class="y" transform="rotate(0.02)" x="26.2" y="304.30" textLength="15.0" lengthAdjust="spacingAndGlyphs">500.00</text>
<text class="y" transform="rotate(0.02)" x="26.2" y="315.90" textLength="9.5" lengthAdjust="spacingAndGlyphs">0.00</text>
<text class="x" transform="translate(31.68 317.10) rotate(-90)" textLength="18.3" lengthAdjust="spacingAndGlyphs">10.2010</text>
<text class="x" transform="translate(39.43 317.10) rotate(-90)" textLength="18.3" lengthAdjust="spacingAndGlyphs">03.2011</text>
<text class="x" transform="translate(47.17 317.10) rotate(-90)" textLength="18.3" lengthAdjust="spacingAndGlyphs">08.2011</text>
<text class="x" transform="translate(54.92 317.10) rotate(-90)" textLength="18.3" lengthAdjust="spacingAndGlyphs">01.2012</text>
<text class="x" transform="translate(62.67 317.10) rotate(-90)" textLength="18.3" lengthAdjust="spacingAndGlyphs">06.2012</text>
<text class="x" transform="translate(70.42 317.10) rotate(-90)" textLength="18.3" lengthAdjust="spacingAndGlyphs">11.2012</text>
<text class="x" transform="translate(78.16 317.10) rotate(-90)" textLength="18.3" lengthAdjust="spacingAndGlyphs">04.2013</text>
<text class="x" transform="translate(85.91 317.10) rotate(-90)" textLength="18.3" lengthAdjust="spacingAndGlyphs">09.2013</text>
<text class="x" transform="translate(93.66 317.10) rotate(-90)" textLength="18.3" lengthAdjust="spacingAndGlyphs">02.2014</text>
<text class="x" transform="translate(101.40 317.10) rotate(-90)" textLength="18.3" lengthAdjust="spacingAndGlyphs">07.2014</text>
<text class="x" transform="translate(109.15 317.10) rotate(-90)" textLength="18.3" lengthAdjust="spacingAndGlyphs">12.2014</text>
<text class="x" transform="translate(116.90 317.10) rotate(-90)" textLength="18.3" lengthAdjust="spacingAndGlyphs">05.2015</text>
<text class="x" transform="translate(124.65 317.10) rotate(-90)" textLength="18.3" lengthAdjust="spacingAndGlyphs">10.2015</text>
<text class="x" transform="translate(132.39 317.10) rotate(-90)" textLength="18.3" lengthAdjust="spacingAndGlyphs">03.2016</text>
<text class="x" transform="translate(140.14 317.10) rotate(-90)" textLength="18.3" lengthAdjust="spacingAndGlyphs">08.2016</text>
<text class="x" transform="translate(147.89 317.10) rotate(-90)" textLength="18.3" lengthAdjust="spacingAndGlyphs">01.2017</text>
<text class="x" transform="translate(155.64 317.10) rotate(-90)" textLength="18.3" lengthAdjust="spacingAndGlyphs">06.2017</text>
<text class="x" transform="translate(163.38 317.10) rotate(-90)" textLength="18.3" lengthAdjust="spacingAndGlyphs">11.2017</text>
<text class="x" transform="translate(171.13 317.10) rotate(-90)" textLength="18.3" lengthAdjust="spacingAndGlyphs">04.2018</text>
<text class="t" x="275.3" y="248.1" textLength="25.6" lengthAdjust="spacingAndGlyphs">USD/TL</text>
<text class="y" transform="rotate(0.02)" x="201.7" y="257.90" textLength="9.5" lengthAdjust="spacingAndGlyphs">5.00</text>
<text class="y" transform="rotate(0.02)" x="201.7" y="263.70" textLength="9.5" lengthAdjust="spacingAndGlyphs">4.50</text>
<text class="y" transform="rotate(0.02)" x="201.7" y="269.50" textLength="9.5" lengthAdjust="spacingAndGlyphs">4.00</text>
<text class="y" transform="rotate(0.02)" x="201.7" y="275.30" textLength="9.5" lengthAdjust="spacingAndGlyphs">3.50</text>
<text class="y" transform="rotate(0.02)" x="201.7" y="281.10" textLength="9.5" lengthAdjust="spacingAndGlyphs">3.00</text>
<text class="y" transform="rotate(0.02)" x="201.7" y="286.90" textLength="9.5" lengthAdjust="spacingAndGlyphs">2.50</text>
<text class="y" transform="rotate(0.02)" x="201.7" y="292.70" textLength="9.5" lengthAdjust="spacingAndGlyphs">2.00</text>
<text class="y" transform="rotate(0.02)" x="201.7" y="298.50" textLength="9.5" lengthAdjust="spacingAndGlyphs">1.50</text>
<text class="y" transform="rotate(0.02)" x="201.7" y="304.30" textLength="9.5" lengthAdjust="spacingAndGlyphs">1.00</text>
<text class="y" transform="rotate(0.02)" x="201.7" y="310.10" textLength="9.5" lengthAdjust="spacingAndGlyphs">0.50</text>
<text class="y" transform="rotate(0.02)" x="201.7" y="315.90" textLength="9.5" lengthAdjust="spacingAndGlyphs">0.00</text>
<text class="x" transform="translate(207.13 317.10) rotate(-90)" textLength="18.3" lengthAdjust="spacingAndGlyphs">10.2010</text>
<text class="x" transform="translate(215.35 317.10) rotate(-90)" textLength="18.3" lengthAdjust="spacingAndGlyphs">03.2011</text>
<text class="x" transform="translate(223.58 317.10) rotate(-90)" textLength="18.3" lengthAdjust="spacingAndGlyphs">08.2011</text>
<text class="x" transform="translate(231.80 317.10) rotate(-90)" textLength="18.3" lengthAdjust="spacingAndGlyphs">01.2012</text>
<text class="x" transform="translate(240.03 317.10) rotate(-90)" textLength="18.3" lengthAdjust="spacingAndGlyphs">06.2012</text>
<text class="x" transform="translate(248.26 317.10) rotate(-90)" textLength="18.3" lengthAdjust="spacingAndGlyphs">11.2012</text>
<text class="x" transform="translate(256.48 317.10) rotate(-90)" textLength="18.3" lengthAdjust="spacingAndGlyphs">04.2013</text>
<text class="x" transform="translate(264.71 317.10) rotate(-90)" textLength="18.3" lengthAdjust="spacingAndGlyphs">09.2013</text>
<text class="x" transform="translate(272.93 317.10) rotate(-90)" textLength="18.3" lengthAdjust="spacingAndGlyphs">02.2014</text>
<text class="x" transform="translate(281.16 317.10) rotate(-90)" textLength="18.3" lengthAdjust="spacingAndGlyphs">07.2014</text>
<text class="x" transform="translate(289.38 317.10) rotate(-90)" textLength="18.3" lengthAdjust="spacingAndGlyphs">12.2014</text>
<text class="x" transform="translate(297.61 317.10) rotate(-90)" textLength="18.3" lengthAdjust="spacingAndGlyphs">05.2015</text>
<text class="x" transform="translate(305.84 317.10) rotate(-90)" textLength="18.3" lengthAdjust="spacingAndGlyphs">10.2015</text>
<text class="x" transform="translate(314.06 317.10) rotate(-90)" textLength="18.3" lengthAdjust="spacingAndGlyphs">03.2016</text>
<text class="x" transform="translate(322.29 317.10) rotate(-90)" textLength="18.3" lengthAdjust="spacingAndGlyphs">08.2016</text>
<text class="x" transform="translate(330.51 317.10) rotate(-90)" textLength="18.3" lengthAdjust="spacingAndGlyphs">01.2017</text>
<text class="x" transform="translate(338.74 317.10) rotate(-90)" textLength="18.3" lengthAdjust="spacingAndGlyphs">06.2017</text>
<text class="x" transform="translate(346.97 317.10) rotate(-90)" textLength="18.3" lengthAdjust="spacingAndGlyphs">11.2017</text>
<text class="x" transform="translate(355.19 317.10) rotate(-90)" textLength="18.3" lengthAdjust="spacingAndGlyphs">04.2018</text>
<text class="t" x="459.4" y="248.1" textLength="59.0" lengthAdjust="spacingAndGlyphs">RSRV (billion TL)</text>
<text class="y" transform="rotate(0.02)" x="388.8" y="257.90" textLength="12.3" lengthAdjust="spacingAndGlyphs">80.00</text>
<text class="y" transform="rotate(0.02)" x="388.8" y="265.15" textLength="12.3" lengthAdjust="spacingAndGlyphs">70.00</text>
<text class="y" transform="rotate(0.02)" x="388.8" y="272.40" textLength="12.3" lengthAdjust="spacingAndGlyphs">60.00</text>
<text class="y" transform="rotate(0.02)" x="388.8" y="279.65" textLength="12.3" lengthAdjust="spacingAndGlyphs">50.00</text>
<text class="y" transform="rotate(0.02)" x="388.8" y="286.90" textLength="12.3" lengthAdjust="spacingAndGlyphs">40.00</text>
<text class="y" transform="rotate(0.02)" x="388.8" y="294.15" textLength="12.3" lengthAdjust="spacingAndGlyphs">30.00</text>
<text class="y" transform="rotate(0.02)" x="388.8" y="301.40" textLength="12.3" lengthAdjust="spacingAndGlyphs">20.00</text>
<text class="y" transform="rotate(0.02)" x="388.8" y="308.65" textLength="12.3" lengthAdjust="spacingAndGlyphs">10.00</text>
<text class="y" transform="rotate(0.02)" x="388.8" y="315.90" textLength="9.5" lengthAdjust="spacingAndGlyphs">0.00</text>
<text class="x" transform="translate(394.31 317.10) rotate(-90)" textLength="18.3" lengthAdjust="spacingAndGlyphs">10.2010</text>
<text class="x" transform="translate(402.37 317.10) rotate(-90)" textLength="18.3" lengthAdjust="spacingAndGlyphs">03.2011</text>
<text class="x" transform="translate(410.43 317.10) rotate(-90)" textLength="18.3" lengthAdjust="spacingAndGlyphs">08.2011</text>
<text class="x" transform="translate(418.49 317.10) rotate(-90)" textLength="18.3" lengthAdjust="spacingAndGlyphs">01.2012</text>
<text class="x" transform="translate(426.55 317.10) rotate(-90)" textLength="18.3" lengthAdjust="spacingAndGlyphs">06.2012</text>
<text class="x" transform="translate(434.61 317.10) rotate(-90)" textLength="18.3" lengthAdjust="spacingAndGlyphs">11.2012</text>
<text class="x" transform="translate(442.66 317.10) rotate(-90)" textLength="18.3" lengthAdjust="spacingAndGlyphs">04.2013</text>
<text class="x" transform="translate(450.72 317.10) rotate(-90)" textLength="18.3" lengthAdjust="spacingAndGlyphs">09.2013</text>
<text class="x" transform="translate(458.78 317.10) rotate(-90)" textLength="18.3" lengthAdjust="spacingAndGlyphs">02.2014</text>
<text class="x" transform="translate(466.84 317.10) rotate(-90)" textLength="18.3" lengthAdjust="spacingAndGlyphs">07.2014</text>
<text class="x" transform="translate(474.90 317.10) rotate(-90)" textLength="18.3" lengthAdjust="spacingAndGlyphs">12.2014</text>
<text class="x" transform="translate(482.96 317.10) rotate(-90)" textLength="18.3" lengthAdjust="spacingAndGlyphs">05.2015</text>
<text class="x" transform="translate(491.02 317.10) rotate(-90)" textLength="18.3" lengthAdjust="spacingAndGlyphs">10.2015</text>
<text class="x" transform="translate(499.08 317.10) rotate(-90)" textLength="18.3" lengthAdjust="spacingAndGlyphs">03.2016</text>
<text class="x" transform="translate(507.14 317.10) rotate(-90)" textLength="18.3" lengthAdjust="spacingAndGlyphs">08.2016</text>
<text class="x" transform="translate(515.20 317.10) rotate(-90)" textLength="18.3" lengthAdjust="spacingAndGlyphs">01.2017</text>
<text class="x" transform="translate(523.26 317.10) rotate(-90)" textLength="18.3" lengthAdjust="spacingAndGlyphs">06.2017</text>
<text class="x" transform="translate(531.32 317.10) rotate(-90)" textLength="18.3" lengthAdjust="spacingAndGlyphs">11.2017</text>
<text class="x" transform="translate(539.37 317.10) rotate(-90)" textLength="18.3" lengthAdjust="spacingAndGlyphs">04.2018</text>
</g>
</svg></body></html>
